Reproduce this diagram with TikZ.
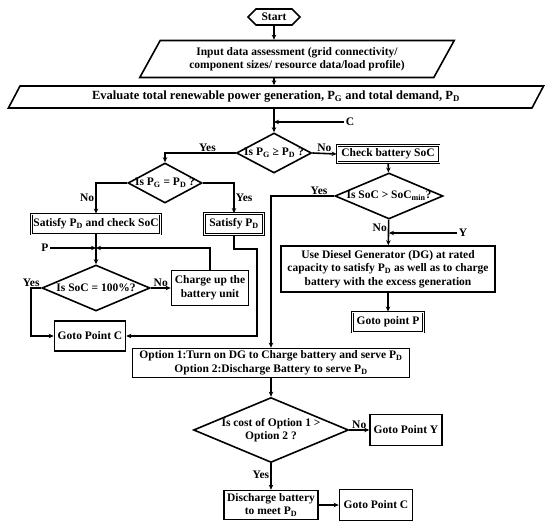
\documentclass[tikz,border=0pt]{standalone}
\usepackage{fontspec}
\setmainfont{Liberation Serif}
\usetikzlibrary{arrows.meta,shapes.geometric,shapes.symbols}

\begin{document}
\begin{tikzpicture}[x=1pt,y=-1pt,font=\bfseries\fontsize{11.5}{13.5}\selectfont,line width=1.6pt,
 box/.style={draw,rectangle,align=center,inner sep=2pt},
 dbox/.style={box,double,double distance=.6pt,line width=.9pt},
 io/.style={draw,trapezium,trapezium left angle=58,trapezium right angle=122,trapezium stretches=true,align=center,inner sep=1pt},
 dec/.style={draw,diamond,inner sep=0pt},
 ar/.style={-{Stealth[length=5pt,width=4.5pt]}},
 lab/.style={inner sep=1pt}]
\useasboundingbox (0,0) rectangle (550,529);
% top of the chart
\node[draw,signal,signal to=east and west,minimum width=52,minimum height=16,inner sep=1pt] (start) at (274,17) {Start};
\node[io,minimum width=315,minimum height=37] (input) at (297,59)
 {Input data assessment (grid connectivity/\\component sizes/ resource data/load profile)};
\node[io,minimum width=537,minimum height=22,font=\bfseries\fontsize{12.5}{14}\selectfont] (eval) at (276,97)
 {Evaluate total renewable power generation, P\textsubscript{G} and total demand, P\textsubscript{D}};
\node[dec,minimum width=75,minimum height=40,label=center:{Is P\textsubscript{G} ≥ P\textsubscript{D} ?}] (d1) at (274,153) {};
\node[lab] (cl) at (350,122) {C};
\draw[ar] (start) -- (start |- input.north);
\draw[ar] (start |- input.south) -- (start |- eval.north);
\draw[ar] (start |- eval.south) -- (d1);
\draw[ar] (cl.west) -- (cl.west -| d1.north);
% left branch
\node[dec,minimum width=74,minimum height=40,label=center:{Is P\textsubscript{G} = P\textsubscript{D} ?}] (d2) at (165,183) {};
\node[dbox,minimum width=127,minimum height=20] (sat1) at (96,224) {Satisfy P\textsubscript{D} and check SoC};
\node[dbox,minimum width=59,minimum height=21] (sat2) at (234,224) {Satisfy P\textsubscript{D}};
\draw[ar] (d1.west) -| node[lab,pos=.2,above] {Yes} (d2.north);
\draw[ar] (d2.west) -| node[lab,pos=.75,left] {No} (sat1.north);
\draw[ar] (d2.east) -| node[lab,pos=.75,right] {Yes} (sat2.north);
\node[dec,minimum width=108,minimum height=46,label=center:{Is SoC = 100\%?}] (d4) at (96,288) {};
\node[box,minimum width=77,minimum height=35] (chg) at (210,288) {Charge up the\\battery unit};
\node[box,minimum width=71,minimum height=30] (gc1) at (90,336) {Goto Point C};
\node[lab] (pl) at (45,248) {P};
\coordinate (k1) at (257,249);
\draw[ar] (sat1) -- (d4);
\draw[ar] (pl.east) -- (pl.east -| d4.north);
\draw[ar] (chg.north) |- (pl.east -| d4.north);
\draw[ar] (d4.east) -- node[lab,above] {No} (chg.west);
\draw[ar] (d4.west) -- ++(-10,0) node[lab,above] {Yes} |- (gc1.west);
\draw[ar] (sat2.south) |- (k1) |- (gc1.east);
% right branch
\node[dbox,minimum width=102,minimum height=17] (chk) at (388,154) {Check battery SoC};
\node[dec,minimum width=108,minimum height=46,label=center:{Is SoC > SoC\textsubscript{min}?}] (d3) at (389,196) {};
\node[box,minimum width=214,minimum height=46] (dg) at (388,269)
 {Use Diesel Generator (DG) at rated\\capacity to satisfy P\textsubscript{D} as well as to charge\\battery with the excess generation};
\node[dbox,minimum width=71,minimum height=20] (gp) at (388,322) {Goto point P};
\node[lab] (yl) at (463,233) {Y};
\draw[ar] (d1.east) -- node[lab,above] {No} (chk.west);
\draw[ar] (chk) -- (d3);
\draw[ar] (d3) -- node[lab,pos=.3,left] {No} (dg);
\draw[ar] (yl.west) -- (yl.west -| d3.south);
\draw[ar] (dg) -- (gp);
% options
\node[box,minimum width=277,minimum height=29,inner sep=1pt] (opt) at (271,363)
 {Option 1:Turn on DG to Charge battery and serve P\textsubscript{D}\\Option 2:Discharge Battery to serve P\textsubscript{D}};
\draw[ar] (d3.west) -| node[lab,pos=.12,above] {Yes} (opt.north);
\node[dec,minimum width=155,minimum height=65,label={[align=center]center:Is cost of Option 1 >\\Option 2 ?}] (d5) at (271,430) {};
\node[box,minimum width=72,minimum height=31] (gy) at (406,430) {Goto Point Y};
\node[box,minimum width=94,minimum height=29,inner sep=1pt] (dis) at (271,505) {Discharge battery\\to meet P\textsubscript{D}};
\node[box,minimum width=73,minimum height=31] (gc2) at (376,505) {Goto Point C};
\draw[ar] (opt) -- (d5);
\draw[ar] (d5.east) -- node[lab,above] {No} (gy.west);
\draw[ar] (d5) -- node[lab,pos=.45,left] {Yes} (dis);
\draw[ar] (dis) -- (gc2);
\end{tikzpicture}
\end{document}
